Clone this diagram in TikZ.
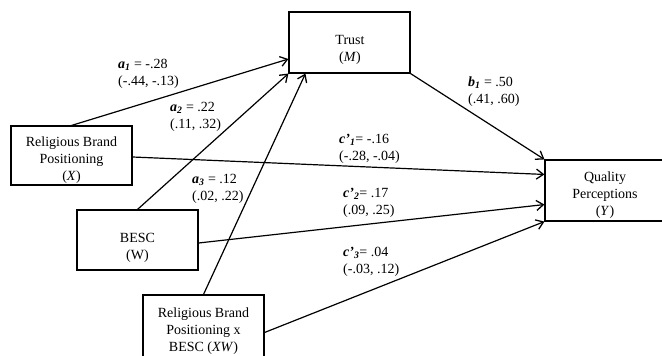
\documentclass[tikz,border=0pt]{standalone}
\usepackage{fontspec}
\setmainfont{Liberation Serif}
\usetikzlibrary{arrows.meta}
\newcommand{\coef}[2]{\textbf{\textit{#1}}\textsubscript{\textbf{\textit{#2}}}}
\begin{document}
\begin{tikzpicture}[x=1pt,y=-1pt,
  box/.style={draw, line width=1.1pt, inner sep=0pt, minimum width=121pt},
  txt/.style={align=center, inner sep=0pt, font=\fontsize{14}{17}\selectfont},
  lbl/.style={align=left, inner sep=0pt, anchor=west, font=\fontsize{14}{17}\selectfont},
  path/.style={line width=1.2pt, -{Straight Barb[length=7pt,width=10pt,line width=1.3pt]}}
]
\useasboundingbox (0,0) rectangle (662,356);
\clip (0,0) rectangle (662,356);
% boxes
\node[box, minimum height=61pt] (T) at (349.5,42.5) {};
\node[box, minimum height=59pt] (X) at (71.5,155.5) {};
\node[box, minimum height=60pt] (W) at (137.5,240) {};
\node[box, minimum height=75pt] (XW) at (203.5,332.5) {};
\node[box, minimum height=61pt, minimum width=140pt] (Y) at (615,190.5) {};
% texts
\node[txt] (tT) at (350,49.5) {Trust\\(\textit{M})};
\node[txt] (tX) at (71.5,160) {Religious Brand\\Positioning\\(\textit{X})};
\node[txt] (tW) at (137.5,247.5) {BESC\\(W)};
\node[txt] (tXW) at (203.5,331) {Religious Brand\\Positioning x\\BESC (\textit{XW})};
\node[txt] (tY) at (605,195.5) {Quality\\Perceptions\\(\textit{Y})};
% connectors
\draw[path] (X.north) -- ([yshift=-16.5pt]T.west);
\draw[path] (W.north) -- (T.south west);
\draw[path] (XW.north) -- ([xshift=17pt]T.south west);
\draw[path] (T.south east) -- (Y.north west);
\draw[path] ([yshift=-1.5pt]X.east) -- ([yshift=-15pt]Y.north west);
\draw[path] ([yshift=-3pt]W.east) -- ([yshift=17pt]Y.south west);
\draw[path] (XW.east) -- (Y.south west);
% labels
\node[lbl] (la1) at (118,73.5) {\coef{a}{1} = -.28\\(-.44, -.13)};
\node[lbl] (la2) at (170,116.5) {\coef{a}{2} = .22\\(.11, .32)};
\node[lbl] (la3) at (192,189) {\coef{a}{3} = .12\\(.02, .22)};
\node[lbl] (lb1) at (468,91.5) {\coef{b}{1} = .50\\(.41, .60)};
\node[lbl] (lc1) at (339,148.5) {\coef{c'}{1}= -.16\\(-.28, -.04)};
\node[lbl] (lc2) at (343,202.5) {\coef{c'}{2}= .17\\(.09, .25)};
\node[lbl] (lc3) at (343,262) {\coef{c'}{3}= .04\\(-.03, .12)};
\end{tikzpicture}
\end{document}
